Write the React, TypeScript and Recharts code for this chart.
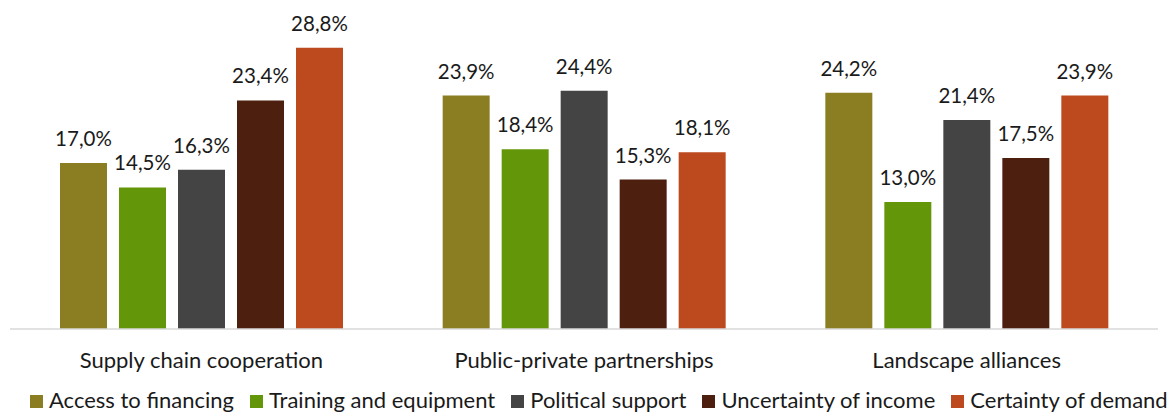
import React from 'react';
import { BarChart, Bar, XAxis, YAxis, LabelList } from 'recharts';

const categories = ['Supply chain cooperation', 'Public-private partnerships', 'Landscape alliances'];
const seriesNames = ['Access to financing', 'Training and equipment', 'Political support', 'Uncertainty of income', 'Certainty of demand'];
const seriesKeys = ['access', 'training', 'political', 'uncertainty', 'certainty'];
const colors = ['#8B7D22', '#64960A', '#444444', '#4C1F0F', '#BC4A1E'];
const access = [17.0, 23.9, 24.2];
const training = [14.5, 18.4, 13.0];
const political = [16.3, 24.4, 21.4];
const uncertainty = [23.4, 15.3, 17.5];
const certainty = [28.8, 18.1, 23.9];

const seriesValues = [access, training, political, uncertainty, certainty];
const data = categories.map((c, i) => {
  const row: Record<string, any> = { name: c };
  seriesKeys.forEach((k, j) => { row[k] = seriesValues[j][i]; });
  return row;
});

const FONT = 'Lato, "Open Sans", sans-serif';
const fmt = (v: any) => Number(v).toFixed(1).replace('.', ',') + '%';

const Tick = (props: any) => {
  const { x, y, payload } = props;
  return (
    <text x={x} y={y + 39} textAnchor="middle" fontFamily={FONT} fontSize={22} fill="#1a1a1a">
      {payload.value}
    </text>
  );
};

export default function App() {
  return (
    <div style={{ position: 'absolute', left: 0, top: 0, width: 1174, height: 413, background: '#fff' }}>
      <BarChart
        width={1174}
        height={413}
        data={data}
        margin={{ top: 36, right: 16, left: 10, bottom: 0 }}
        barCategoryGap={50}
        barGap={12}
      >
        <XAxis
          dataKey="name"
          height={84}
          tickLine={false}
          tickSize={0}
          tickMargin={0}
          axisLine={{ stroke: '#d9d9d9', strokeWidth: 1.5 }}
          tick={<Tick />}
          interval={0}
        />
        <YAxis hide domain={[0, 30]} />
        {seriesKeys.map((k, j) => (
          <Bar key={k} dataKey={k} name={seriesNames[j]} fill={colors[j]} isAnimationActive={false}>
            <LabelList
              dataKey={k}
              position="top"
              offset={17}
              formatter={fmt}
              style={{ fontFamily: FONT, fontSize: 20.5, fill: '#1a1a1a' }}
            />
          </Bar>
        ))}
      </BarChart>
      <div
        style={{
          position: 'absolute',
          left: 30,
          top: 386,
          display: 'flex',
          alignItems: 'center',
          fontFamily: FONT,
          fontSize: 22,
          color: '#1a1a1a',
          whiteSpace: 'nowrap',
        }}
      >
        {seriesNames.map((n, j) => (
          <div key={n} style={{ display: 'flex', alignItems: 'center', marginRight: 16 }}>
            <span style={{ display: 'inline-block', width: 13, height: 13, background: colors[j], marginRight: 6, marginTop: 3 }} />
            <span>{n}</span>
          </div>
        ))}
      </div>
    </div>
  );
}
